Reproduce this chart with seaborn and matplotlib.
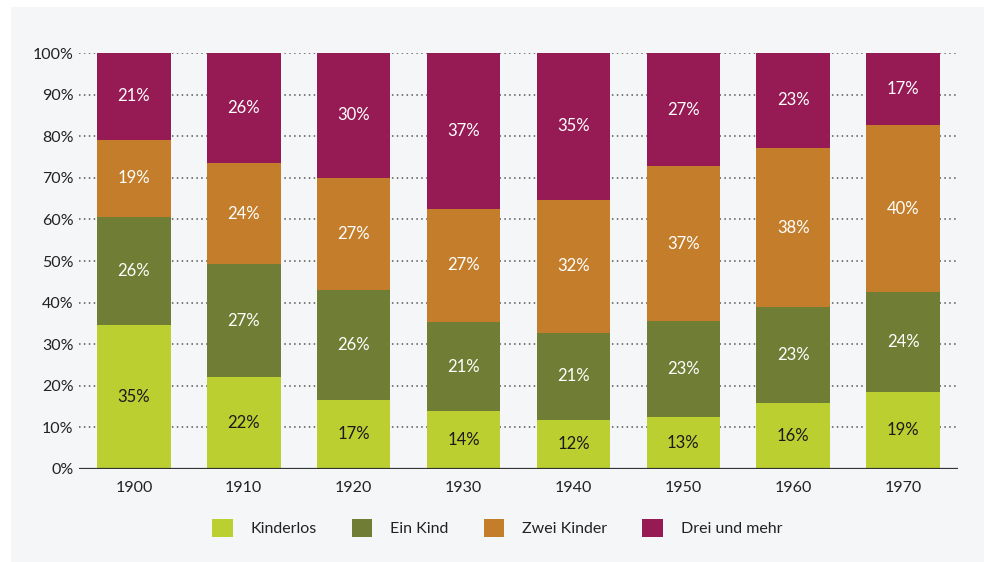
import matplotlib
matplotlib.use("Agg")
import matplotlib.pyplot as plt
import matplotlib.patches as mpatches
import seaborn as sns
import numpy as np
import pandas as pd

years = ["1900", "1910", "1920", "1930", "1940", "1950", "1960", "1970"]
categories = ["Kinderlos", "Ein Kind", "Zwei Kinder", "Drei und mehr"]
kinderlos = [34.6, 22.0, 16.6, 13.9, 11.8, 12.6, 15.9, 18.6]
ein_kind = [26.0, 27.2, 26.4, 21.4, 20.9, 23.0, 23.0, 24.0]
zwei_kinder = [18.6, 24.4, 27.0, 27.3, 32.0, 37.2, 38.3, 40.0]
drei_mehr = [20.8, 26.4, 30.0, 37.4, 35.3, 27.2, 22.8, 17.4]
yticks = [0, 10, 20, 30, 40, 50, 60, 70, 80, 90, 100]

colors = ["#bccf31", "#707e35", "#c47e2b", "#961b54"]
text_colors = ["#1a1a1a", "white", "white", "white"]

sns.set_theme(style="white")
plt.rcParams["font.family"] = ["Lato", "DejaVu Sans"]

series = [kinderlos, ein_kind, zwei_kinder, drei_mehr]
df = pd.DataFrame({"year": years})
for name, vals in zip(categories, series):
    df[name] = vals
cum = df[categories].cumsum(axis=1)

W, H = 984, 562
fig = plt.figure(figsize=(W / 100, H / 100), dpi=100, facecolor="white")
panel_bg = "#f5f6f8"
bg = fig.add_axes([11 / W, 0, 1 - 11 / W, 1 - 7 / H], zorder=-10)
bg.set_facecolor(panel_bg)
bg.set_xticks([])
bg.set_yticks([])
for s in bg.spines.values():
    s.set_visible(False)

ax_l, ax_r, ax_t, ax_b = 79, 958, 53, 469
ax = fig.add_axes([ax_l / W, 1 - ax_b / H, (ax_r - ax_l) / W, (ax_b - ax_t) / H])
ax.set_facecolor("none")

for i in range(len(categories) - 1, -1, -1):
    sns.barplot(x=df["year"], y=cum[categories[i]], color=colors[i], width=0.67,
                ax=ax, saturation=1, edgecolor=colors[i], linewidth=0, zorder=3)

for i, name in enumerate(categories):
    bottoms = cum[name] - df[name]
    for j, (b, v) in enumerate(zip(bottoms, df[name])):
        ax.text(j, b + v / 2, f"{round(v):d}%", ha="center", va="center",
                color=text_colors[i], fontsize=12, zorder=5)

ax.set_xlim(-0.5, 7.5)
ax.set_ylim(0, 100)
ax.set_yticks(yticks)
ax.set_yticklabels([f"{t}%" for t in yticks])
ax.set_xlabel("")
ax.set_ylabel("")
for t in yticks[1:]:
    ax.axhline(t, color="#555555", linewidth=1.1, linestyle=(0, (1, 2.2)), zorder=1)
ax.axhline(0, color="#333333", linewidth=1.6, zorder=6)
for s in ax.spines.values():
    s.set_visible(False)
ax.tick_params(axis="both", length=0, labelsize=11.5, colors="#222222")
ax.tick_params(axis="y", pad=4)
ax.tick_params(axis="x", pad=9)

handles = [mpatches.Patch(facecolor=c, edgecolor="none") for c in colors]
fig.legend(handles, categories, loc="center", bbox_to_anchor=(497 / W, 1 - 528 / H),
           ncol=4, frameon=False, fontsize=11.5, handlelength=1.3, handleheight=1.3,
           handletextpad=1.1, columnspacing=2.2, labelcolor="#222222")

fig.savefig("out.png", dpi=100, facecolor="white")
